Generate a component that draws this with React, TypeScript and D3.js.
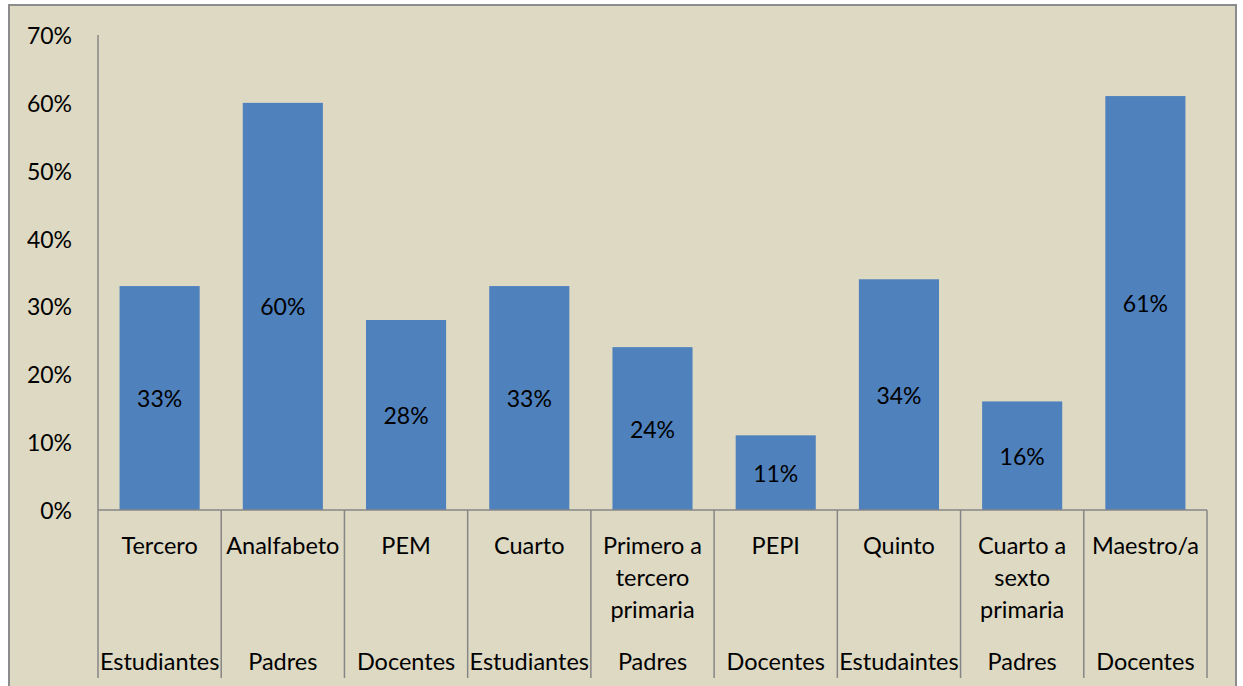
import React from "react";
import * as d3 from "d3";

const categories: string[][] = [
  ["Tercero"],
  ["Analfabeto"],
  ["PEM"],
  ["Cuarto"],
  ["Primero a", "tercero", "primaria"],
  ["PEPI"],
  ["Quinto"],
  ["Cuarto a", "sexto", "primaria"],
  ["Maestro/a"],
];
const groups: string[] = [
  "Estudiantes", "Padres", "Docentes",
  "Estudiantes", "Padres", "Docentes",
  "Estudaintes", "Padres", "Docentes",
];
const values: number[] = [0.33, 0.6, 0.28, 0.33, 0.24, 0.11, 0.34, 0.16, 0.61];
const yTicks: number[] = [0, 0.1, 0.2, 0.3, 0.4, 0.5, 0.6, 0.7];

const W = 1243;
const H = 686;
const left = 98;
const right = 1207;
const top = 35;
const base = 510;
const font = "Lato, 'Liberation Sans', sans-serif";

export default function App() {
  const idx = values.map((_, i) => i);
  const x = d3.scaleBand<number>().domain(idx).range([left, right]).paddingInner(0).paddingOuter(0);
  const y = d3.scaleLinear().domain([0, 0.7]).range([base, top]);
  const fmt = d3.format(".0%");
  const bw = x.bandwidth();
  const barW = bw * 0.65;
  const grey = "#868686";
  return (
    <svg width={W} height={H} style={{ position: "absolute", left: 0, top: 0 }}>
      <rect x={0} y={0} width={W} height={H} fill="#ffffff" />
      <rect x={9} y={5} width={1227} height={700} fill="#DDD9C3" stroke="#8c8c8c" strokeWidth={2} />
      {yTicks.map((t) => (
        <text key={t} x={72} y={y(t)} textAnchor="end" dominantBaseline="central" fontFamily={font} fontSize={23} fill="#000">
          {fmt(t)}
        </text>
      ))}
      {idx.map((i) => {
        const x0 = x(i)! + (bw - barW) / 2;
        const v = values[i];
        return (
          <g key={i}>
            <rect x={x0} y={y(v)} width={barW} height={base - y(v)} fill="#4F81BD" />
            <text x={x(i)! + bw / 2} y={(y(v) + base) / 2} textAnchor="middle" dominantBaseline="central" fontFamily={font} fontSize={23} fill="#000">
              {fmt(v)}
            </text>
          </g>
        );
      })}
      <line x1={left} x2={left} y1={top} y2={base} stroke={grey} strokeWidth={1.5} />
      <line x1={left} x2={right} y1={base} y2={base} stroke={grey} strokeWidth={1.5} />
      {[...idx, idx.length].map((i) => {
        const xx = i < idx.length ? x(i)! : right;
        return <line key={"s" + i} x1={xx} x2={xx} y1={base} y2={678} stroke={grey} strokeWidth={1.5} />;
      })}
      {idx.map((i) => (
        <g key={"c" + i}>
          {categories[i].map((ln, k) => (
            <text key={k} x={x(i)! + bw / 2} y={545 + k * 32} textAnchor="middle" dominantBaseline="central" fontFamily={font} fontSize={23.5} fill="#000">
              {ln}
            </text>
          ))}
          <text x={x(i)! + bw / 2} y={661} textAnchor="middle" dominantBaseline="central" fontFamily={font} fontSize={23.5} fill="#000">
            {groups[i]}
          </text>
        </g>
      ))}
    </svg>
  );
}
